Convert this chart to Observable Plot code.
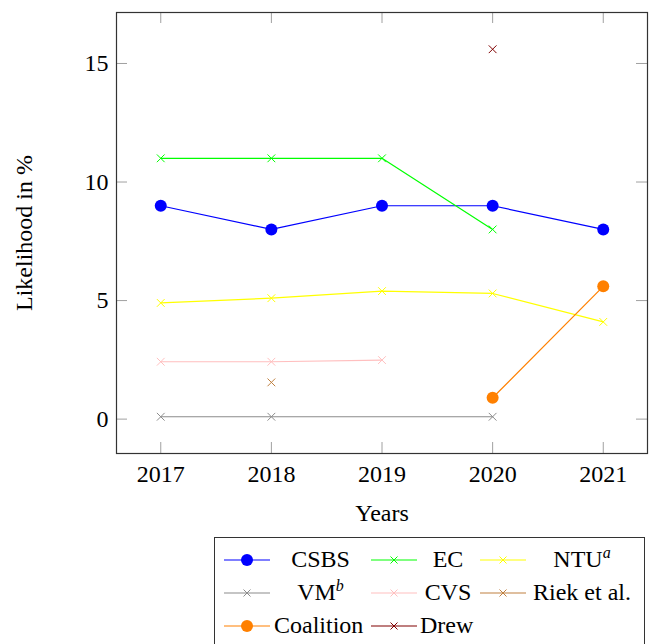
<!DOCTYPE html>
<html>
<head>
<meta charset="utf-8">
<script src="https://cdn.jsdelivr.net/npm/d3@7"></script>
<script src="https://cdn.jsdelivr.net/npm/@observablehq/plot@0.6"></script>
<style>
  body { margin: 0; background: #fff; font-family: "Liberation Serif", "Times New Roman", Times, "DejaVu Serif", serif; }
  #chart svg text { font-family: "Liberation Serif", "Times New Roman", Times, "DejaVu Serif", serif !important; }
  #legend {
    margin-left: 214px; margin-top: 2px; width: 431px;
    border: 1px solid #333; box-sizing: border-box;
    padding: 5px 0 12px 9px;
    display: grid;
    grid-template-columns: 46px 101px 45px 64px 46px 112px;
    grid-auto-rows: 33px;
    align-items: center;
    font-size: 24px; color: #000;
  }
  #legend .lab { text-align: center; white-space: nowrap; }
  #legend .lab.left { text-align: left; padding-left: 4px; }
  #legend sup { font-size: 16px; font-style: italic; vertical-align: 9px; line-height: 0; }
  #legend svg { display: block; }
</style>
</head>
<body>
<div id="chart"></div>
<div id="legend"></div>
<script>
// ---- data ----
const years = [2017, 2018, 2019, 2020, 2021];
const csbs      = [9, 8, 9, 9, 8];
const ec        = [11, 11, 11, 8, null];
const ntu       = [4.9, 5.1, 5.4, 5.3, 4.1];
const vm        = [0.1, 0.1, null, 0.1, null];
const cvs       = [2.42, 2.42, 2.49, null, null];
const riek      = [null, 1.55, null, null, null];
const coalition = [null, null, null, 0.9, 5.6];
const drew      = [null, null, null, 15.6, null];

const seriesNames  = ["CSBS", "EC", "NTU", "VM", "CVS", "Riek et al.", "Coalition", "Drew"];
const seriesLabels = ["CSBS", "EC", "NTU<sup>a</sup>", "VM<sup>b</sup>", "CVS", "Riek et al.", "Coalition", "Drew"];
const seriesValues = [csbs, ec, ntu, vm, cvs, riek, coalition, drew];
const seriesColors = ["#0000ff", "#00ff00", "#ffff00", "#8c8c8c", "#ffbfbf", "#bf8040", "#ff8000", "#800000"];
const seriesMarkers = ["circle", "times", "times", "times", "times", "times", "circle", "times"];

const xTicks = [2017, 2018, 2019, 2020, 2021];
const yTicks = [0, 5, 10, 15];
const xDomain = [2016.6, 2021.4];
const yDomain = [-1.45, 17.15];

// ---- layout ----
const W = 654, H = 535;
const mTop = 12, mRight = 7, mBottom = 82, mLeft = 116;
const innerW = W - mLeft - mRight, innerH = H - mTop - mBottom;
const tickLen = 11;
const FONT = "'Liberation Serif', 'Times New Roman', Times, 'DejaVu Serif', serif";

const marks = [];
// inward ticks on all four sides (y1 = top value, y2 = bottom value)
marks.push(Plot.ruleX(xTicks, {x: d => d, y1: yDomain[1], y2: yDomain[0], insetTop: innerH - tickLen, stroke: "#a0a0a0"}));
marks.push(Plot.ruleX(xTicks, {x: d => d, y1: yDomain[1], y2: yDomain[0], insetBottom: innerH - tickLen, stroke: "#a0a0a0"}));
marks.push(Plot.ruleY(yTicks, {y: d => d, x1: xDomain[0], x2: xDomain[1], insetRight: innerW - tickLen, stroke: "#a0a0a0"}));
marks.push(Plot.ruleY(yTicks, {y: d => d, x1: xDomain[0], x2: xDomain[1], insetLeft: innerW - tickLen, stroke: "#a0a0a0"}));

seriesNames.forEach((name, i) => {
  const pts = years.map((yr, j) => ({x: yr, y: seriesValues[i][j]})).filter(d => d.y != null);
  const color = seriesColors[i];
  if (pts.length > 1) marks.push(Plot.line(pts, {x: "x", y: "y", stroke: color, strokeWidth: 1.2}));
  if (seriesMarkers[i] === "circle") {
    marks.push(Plot.dot(pts, {x: "x", y: "y", r: 6, fill: color, stroke: null}));
  } else {
    marks.push(Plot.dot(pts, {x: "x", y: "y", r: 3.6, symbol: "times", stroke: color, strokeWidth: 1}));
  }
});

marks.push(Plot.frame({stroke: "#333", strokeWidth: 1.2}));
const tx = {fontSize: 24, fill: "#000", fontFamily: FONT};
// tick labels
marks.push(Plot.text(xTicks, {x: d => d, frameAnchor: "bottom", dy: 21, lineAnchor: "middle", text: d => String(d), ...tx}));
marks.push(Plot.text(yTicks, {y: d => d, frameAnchor: "left", dx: -8, textAnchor: "end", text: d => String(d), ...tx}));
// axis titles
marks.push(Plot.text(["Years"], {frameAnchor: "bottom", dy: 60, lineAnchor: "middle", textAnchor: "middle", text: d => d, ...tx}));
marks.push(Plot.text(["Likelihood in %"], {frameAnchor: "left", dx: -92, rotate: -90, lineAnchor: "middle", textAnchor: "middle", text: d => d, ...tx}));

const chart = Plot.plot({
  width: W, height: H,
  marginTop: mTop, marginRight: mRight, marginBottom: mBottom, marginLeft: mLeft,
  x: {type: "linear", domain: xDomain, axis: null},
  y: {type: "linear", domain: yDomain, axis: null},
  style: {fontFamily: FONT, fontSize: "24px", background: "#fff"},
  marks
});
document.getElementById("chart").appendChild(chart);

// ---- legend ----
const legend = document.getElementById("legend");
seriesNames.forEach((name, i) => {
  const sw = document.createElementNS("http://www.w3.org/2000/svg", "svg");
  sw.setAttribute("width", 46); sw.setAttribute("height", 16);
  const c = seriesColors[i];
  let inner = `<line x1="0" y1="8" x2="46" y2="8" stroke="${c}" stroke-width="1.2"/>`;
  if (seriesMarkers[i] === "circle") inner += `<circle cx="23" cy="8" r="6" fill="${c}"/>`;
  else inner += `<path d="M19.5,4.5L26.5,11.5M26.5,4.5L19.5,11.5" stroke="${c}" stroke-width="1"/>`;
  sw.innerHTML = inner;
  const cellS = document.createElement("div"); cellS.appendChild(sw);
  const cellL = document.createElement("div");
  cellL.className = "lab" + (name === "Coalition" || name === "Drew" ? " left" : "");
  cellL.innerHTML = seriesLabels[i];
  legend.appendChild(cellS); legend.appendChild(cellL);
});
</script>
</body>
</html>
